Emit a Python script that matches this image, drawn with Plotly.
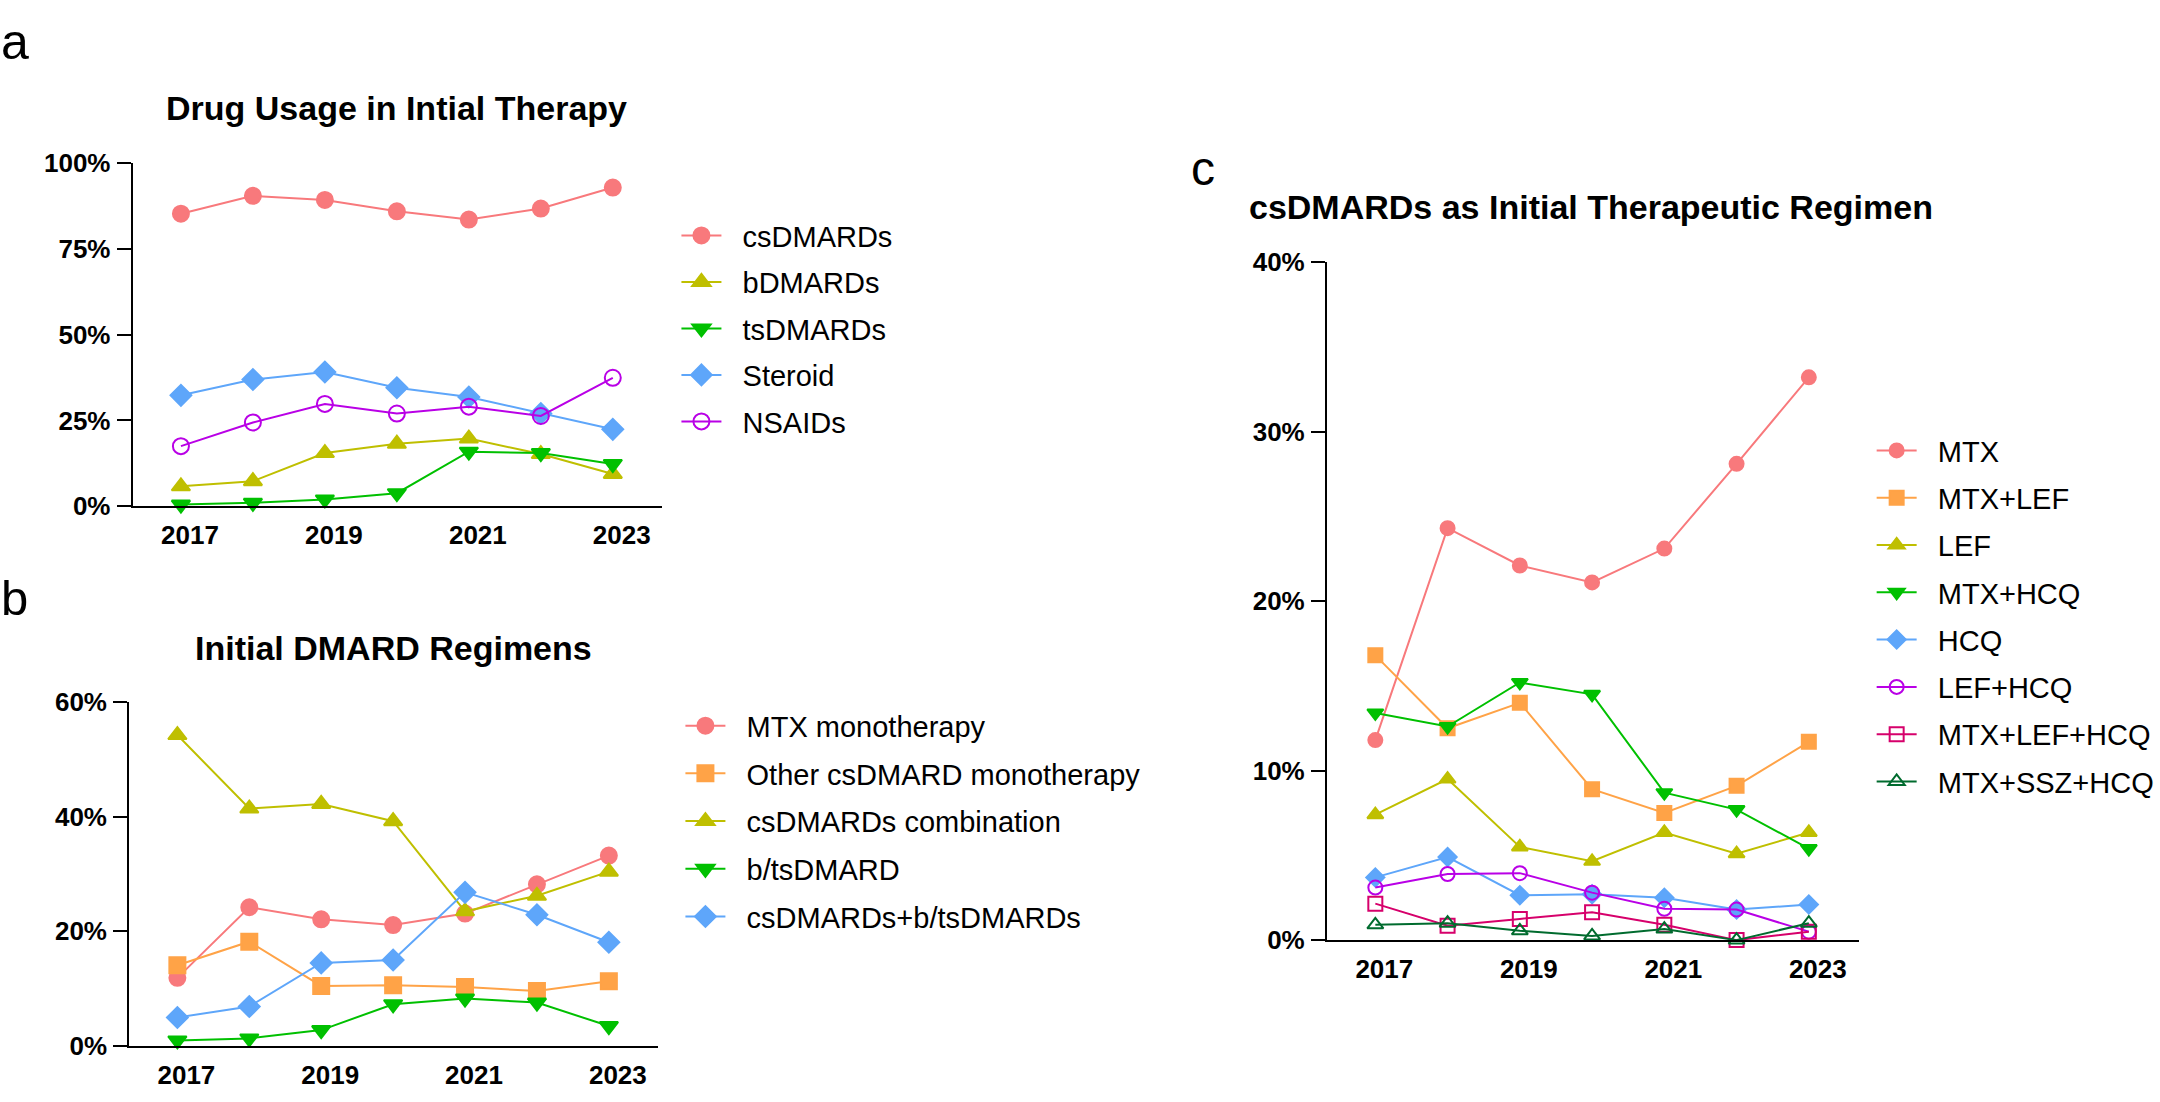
import plotly.graph_objects as go

W, H = 2160, 1102

years = [2017, 2018, 2019, 2020, 2021, 2022, 2023]
year_ticks = [2017, 2019, 2021, 2023]

# Panel a: Drug Usage in Intial Therapy (%)
a_names = ["csDMARDs", "bDMARDs", "tsDMARDs", "Steroid", "NSAIDs"]
a_csdmards = [85.2, 90.4, 89.2, 85.9, 83.5, 86.7, 92.8]
a_bdmards = [5.8, 7.3, 15.5, 18.2, 19.7, 15.2, 9.4]
a_tsdmards = [0.5, 1.0, 2.0, 3.8, 15.9, 15.5, 12.3]
a_steroid = [32.3, 36.9, 39.1, 34.5, 31.8, 27.0, 22.4]
a_nsaids = [17.5, 24.4, 29.8, 27.0, 29.0, 26.3, 37.4]
a_ticks = [0, 25, 50, 75, 100]

# Panel b: Initial DMARD Regimens (%)
b_names = ["MTX monotherapy", "Other csDMARD monotherapy", "csDMARDs combination",
           "b/tsDMARD", "csDMARDs+b/tsDMARDs"]
b_mtx_mono = [11.9, 24.2, 22.1, 21.1, 23.1, 28.2, 33.2]
b_other_mono = [14.1, 18.2, 10.5, 10.6, 10.3, 9.6, 11.3]
b_combo = [54.2, 41.4, 42.2, 39.2, 23.5, 26.2, 30.4]
b_bts = [1.0, 1.35, 2.8, 7.3, 8.3, 7.6, 3.5]
b_cs_bts = [5.0, 6.9, 14.5, 15.0, 26.8, 22.9, 18.1]
b_ticks = [0, 20, 40, 60]

# Panel c: csDMARDs as Initial Therapeutic Regimen (%)
c_names = ["MTX", "MTX+LEF", "LEF", "MTX+HCQ", "HCQ", "LEF+HCQ", "MTX+LEF+HCQ", "MTX+SSZ+HCQ"]
c_mtx = [11.8, 24.3, 22.1, 21.1, 23.1, 28.1, 33.2]
c_mtx_lef = [16.8, 12.5, 14.0, 8.9, 7.5, 9.1, 11.7]
c_lef = [7.4, 9.5, 5.5, 4.65, 6.35, 5.1, 6.35]
c_mtx_hcq = [13.4, 12.6, 15.2, 14.5, 8.7, 7.7, 5.4]
c_hcq = [3.7, 4.9, 2.65, 2.7, 2.5, 1.8, 2.1]
c_lef_hcq = [3.1, 3.9, 3.95, 2.8, 1.85, 1.8, 0.5]
c_mtx_lef_hcq = [2.15, 0.85, 1.25, 1.65, 0.9, 0.0, 0.5]
c_mtx_ssz_hcq = [0.9, 1.0, 0.55, 0.25, 0.65, 0.0, 1.0]
c_ticks = [0, 10, 20, 30, 40]

PINK = "#F8797C"
OLIVE = "#BFBF00"
GREEN = "#00C000"
BLUE = "#5EA6FA"
PURPLE = "#B900E6"
ORANGE = "#FFA347"
CRIMSON = "#D6006B"
DKGREEN = "#006B2E"

FONT = "Liberation Sans, Arial, sans-serif"
PAD = "\u00a0\u00a0"  # gap between legend symbol and label

fig = go.Figure()


def add(name, y, color, symbol, xa, ya, legend, size, group):
    fig.add_trace(go.Scatter(
        x=years, y=y, name=PAD + name, mode="lines+markers",
        line=dict(color=color, width=2),
        marker=dict(symbol=symbol, size=size, color=color,
                    line=dict(color=color, width=2)),
        xaxis=xa, yaxis=ya, legend=legend, legendgroup=group,
        cliponaxis=False, showlegend=True))


a_series = [a_csdmards, a_bdmards, a_tsdmards, a_steroid, a_nsaids]
a_style = [(PINK, "circle"), (OLIVE, "triangle-up"), (GREEN, "triangle-down"),
           (BLUE, "diamond"), (PURPLE, "circle-open")]
for i, (n, s, st) in enumerate(zip(a_names, a_series, a_style)):
    add(n, s, st[0], st[1], "x", "y", "legend", 16, "a%d" % i)

b_series = [b_mtx_mono, b_other_mono, b_combo, b_bts, b_cs_bts]
b_style = [(PINK, "circle"), (ORANGE, "square"), (OLIVE, "triangle-up"),
           (GREEN, "triangle-down"), (BLUE, "diamond")]
for i, (n, s, st) in enumerate(zip(b_names, b_series, b_style)):
    add(n, s, st[0], st[1], "x2", "y2", "legend2", 16, "b%d" % i)

c_series = [c_mtx, c_mtx_lef, c_lef, c_mtx_hcq, c_hcq, c_lef_hcq, c_mtx_lef_hcq, c_mtx_ssz_hcq]
c_style = [(PINK, "circle"), (ORANGE, "square"), (OLIVE, "triangle-up"),
           (GREEN, "triangle-down"), (BLUE, "diamond"), (PURPLE, "circle-open"),
           (CRIMSON, "square-open"), (DKGREEN, "triangle-up-open")]
for i, (n, s, st) in enumerate(zip(c_names, c_series, c_style)):
    add(n, s, st[0], st[1], "x3", "y3", "legend3", 14, "c%d" % i)


def fx(px):
    return px / W


def fy(py):
    return 1 - py / H


tickfont = dict(family=FONT, size=26, color="black", weight="bold")


def xaxis(domain, anchor):
    return dict(domain=domain, anchor=anchor, range=[2016.33, 2023.69],
                tickvals=year_ticks, ticktext=[str(t) for t in year_ticks],
                ticks="", showline=True, linecolor="black", linewidth=2,
                showgrid=False, zeroline=False, tickfont=tickfont,
                ticklabelstandoff=5, ticklabelshift=9, fixedrange=True)


def yaxis(domain, anchor, rng, tv):
    return dict(domain=domain, anchor=anchor, range=rng, tickvals=tv,
                ticktext=["%d%%" % t for t in tv],
                ticks="outside", ticklen=14, tickwidth=2, tickcolor="black",
                showline=True, linecolor="black", linewidth=2,
                showgrid=False, zeroline=False, tickfont=tickfont,
                ticklabelstandoff=1, fixedrange=True)


def legend(x, y, gap):
    return dict(x=fx(x), y=fy(y), xanchor="left", yanchor="top",
                font=dict(family=FONT, size=29, color="black"),
                bgcolor="rgba(0,0,0,0)", traceorder="grouped",
                tracegroupgap=gap, itemwidth=40)


fig.update_layout(
    width=W, height=H, autosize=False,
    margin=dict(l=0, r=0, t=0, b=0),
    paper_bgcolor="white", plot_bgcolor="white",
    font=dict(family=FONT, color="black"),
    xaxis=xaxis([fx(133), fx(664)], "y"),
    yaxis=yaxis([fy(505), fy(152)], "x", [0, 100], a_ticks),
    xaxis2=xaxis([fx(129.5), fx(660)], "y2"),
    yaxis2=yaxis([fy(1060), fy(706)], "x2", [0, 60], b_ticks),
    xaxis3=xaxis([fx(1330), fx(1863)], "y3"),
    yaxis3=yaxis([fy(951), fy(254)], "x3", [0, 40], c_ticks),
    legend=legend(678, 200.5, 5.8),
    legend2=legend(682, 704.5, 7),
    legend3=legend(1876, 421.5, 6.6),
)

titles = [
    ("Drug Usage in Intial Therapy", 397, 95.5),
    ("Initial DMARD Regimens", 394, 651),
    ("csDMARDs as Initial Therapeutic Regimen", 1594.5, 197),
]
for t, x, y in titles:
    fig.add_annotation(text=t, x=fx(x), y=fy(y), xref="paper", yref="paper",
                       xanchor="center", yanchor="middle", showarrow=False,
                       font=dict(family=FONT, size=34, color="black", weight="bold"))

labels = [("a", 15, 28, 50), ("b", 15, 599, 49), ("c", 1206, 158, 48)]
for t, x, y, s in labels:
    fig.add_annotation(text=t, x=fx(x), y=fy(y), xref="paper", yref="paper",
                       xanchor="center", yanchor="middle", showarrow=False,
                       font=dict(family=FONT, size=s, color="black"))

fig.write_html("out.html", config={"displayModeBar": False},
               post_script="document.body.style.margin='0';")
